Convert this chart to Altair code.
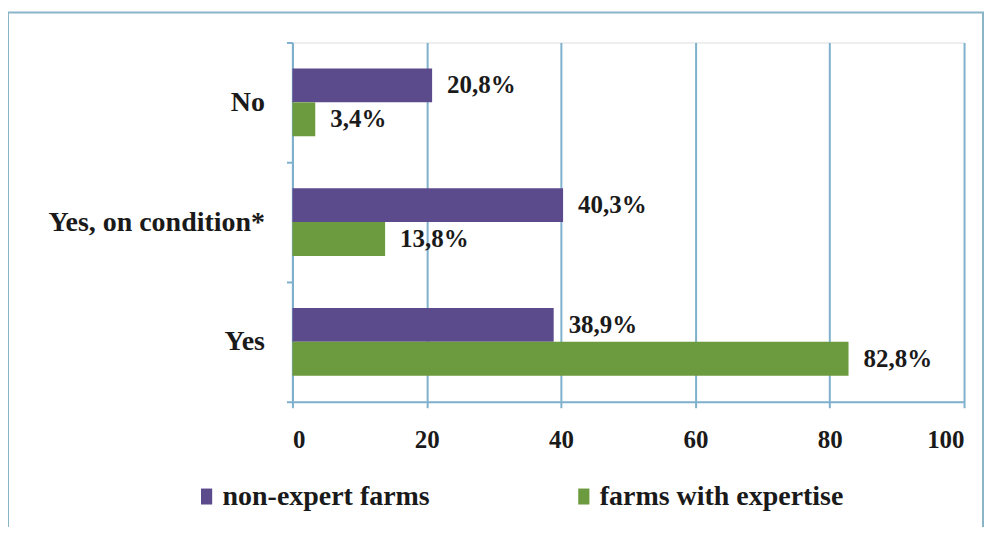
import altair as alt
import pandas as pd

categories = ["No", "Yes, on condition*", "Yes"]
series = ["non-expert farms", "farms with expertise"]
non_expert = [20.8, 40.3, 38.9]
expertise = [3.4, 13.8, 82.8]
x_ticks = [0, 20, 40, 60, 80, 100]

PURPLE = "#5c4b8c"
GREEN = "#6c9a3e"
GRID = "#7fb0cc"
FONT = "Liberation Serif"

rows = []
for cat, a, b in zip(categories, non_expert, expertise):
    rows.append({"category": cat, "series": series[0], "value": a,
                 "label": f"{a:.1f}%".replace(".", ",")})
    rows.append({"category": cat, "series": series[1], "value": b,
                 "label": f"{b:.1f}%".replace(".", ",")})
df = pd.DataFrame(rows)

y_enc = alt.Y("category:N", sort=categories,
              scale=alt.Scale(paddingInner=0, paddingOuter=0),
              axis=alt.Axis(title=None, tickBand="extent", labelFont=FONT,
                            labelFontWeight="bold", labelFontSize=28,
                            labelColor="#1a1a1a", labelPadding=22, labelLimit=400,
                            domainColor=GRID, domainWidth=2, tickColor=GRID,
                            tickWidth=2, tickSize=6, grid=False))
yoff_enc = alt.YOffset("series:N", sort=series,
                       scale=alt.Scale(domain=series, paddingInner=0, paddingOuter=0.765))
x_enc = alt.X("value:Q", scale=alt.Scale(domain=[0, 100], nice=False),
              axis=alt.Axis(title=None, values=x_ticks, grid=True, gridColor=GRID,
                            gridWidth=2, domainColor=GRID, domainWidth=2,
                            tickColor=GRID, tickWidth=2, tickSize=6,
                            labelFont=FONT, labelFontWeight="bold", labelFontSize=25,
                            labelColor="#1a1a1a", labelPadding=20))

base = alt.Chart(df)
bars = base.mark_bar().encode(
    y=y_enc, yOffset=yoff_enc, x=x_enc,
    color=alt.Color("series:N", sort=series,
                    scale=alt.Scale(domain=series, range=[PURPLE, GREEN]),
                    legend=alt.Legend(title=None, orient="none", direction="horizontal",
                                      legendX=-100, legendY=441,
                                      symbolType="M-0.7,-1H0.7V1H-0.7Z", symbolSize=256,
                                      symbolStrokeWidth=0, labelFont=FONT,
                                      labelFontWeight="bold", labelFontSize=28,
                                      labelColor="#1a1a1a", labelOffset=2,
                                      columnPadding=140, labelLimit=400)),
)
texts = base.mark_text(align="left", dx=15, font=FONT, fontWeight="bold",
                       fontSize=25, color="#1a1a1a").encode(
    y=alt.Y("category:N", sort=categories), yOffset=yoff_enc,
    x=alt.X("value:Q"), text="label:N")

border = alt.Chart(pd.DataFrame({"a": [0]})).mark_rect(
    fillOpacity=0, stroke="#8ab4c8", strokeWidth=2).encode(
    x=alt.value(-285), x2=alt.value(692), y=alt.value(-30), y2=alt.value(520))

chart = alt.layer(bars, texts, border).properties(
    width=673, height=360,
    autosize=alt.AutoSizeParams(type="none"),
    padding={"left": 285, "top": 34, "right": 21, "bottom": 125},
).configure_view(stroke=None).configure(background="white")

chart.save("out.html", embed_options={"renderer": "svg", "actions": False})
